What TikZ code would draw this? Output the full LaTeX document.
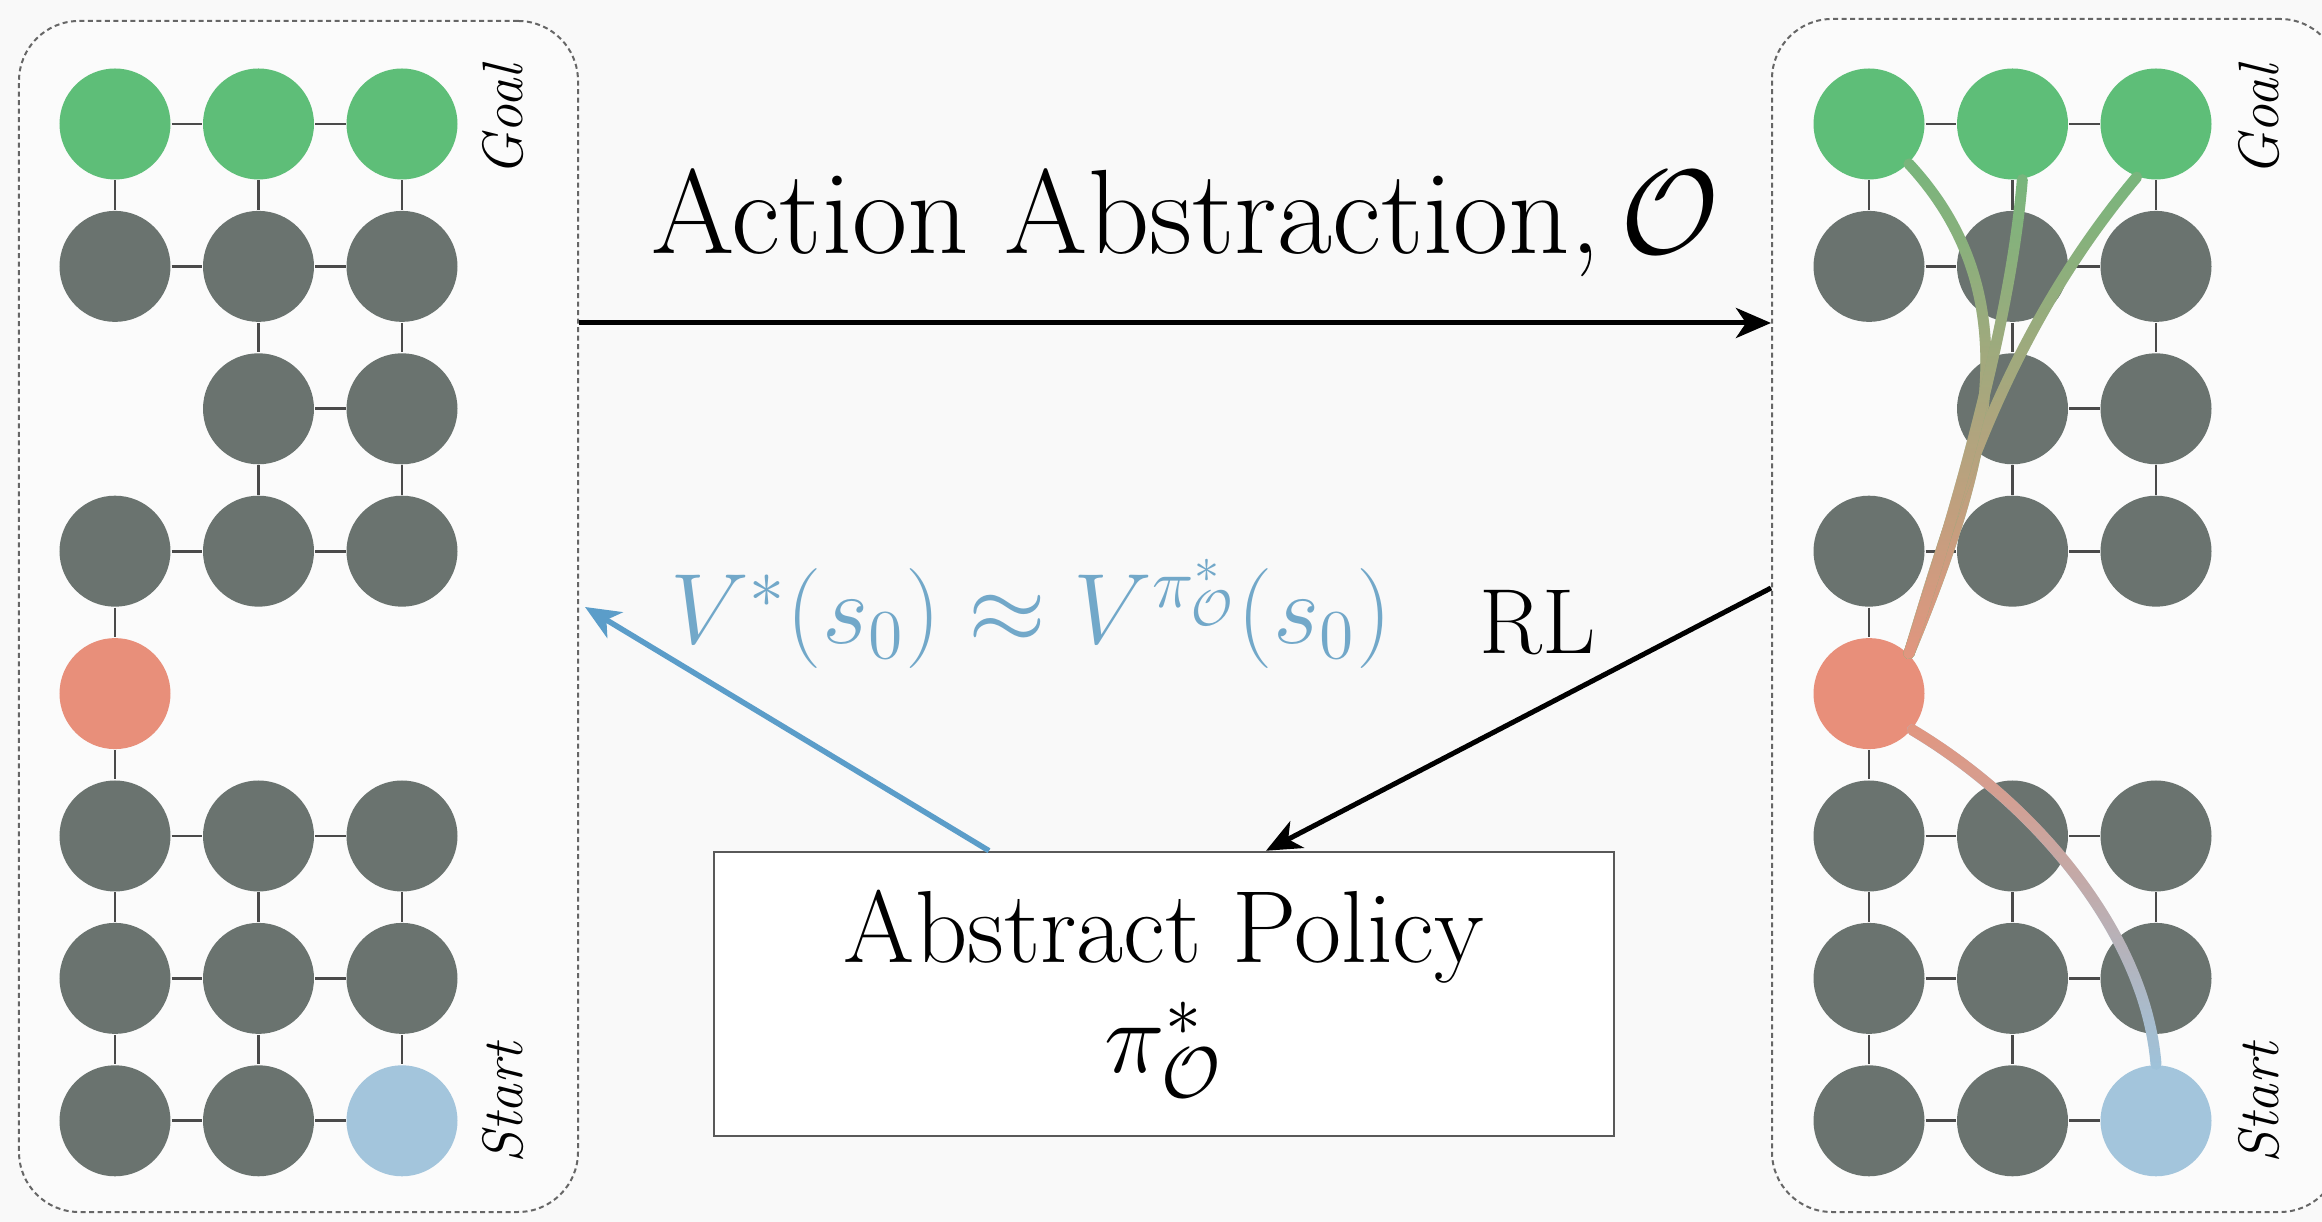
\RequirePackage{fix-cm}
\documentclass[tikz,border=0pt]{standalone}
\usetikzlibrary{arrows.meta,fadings}
\definecolor{bgc}{HTML}{F9F9F9}
\definecolor{panelc}{HTML}{FBFBFB}
\definecolor{goalc}{HTML}{5EBE78}
\definecolor{cellc}{HTML}{6A736F}
\definecolor{redc}{HTML}{E88F7A}
\definecolor{startc}{HTML}{A3C5DC}
\definecolor{edgec}{HTML}{4A4A4A}
\definecolor{bluec}{HTML}{5B9DC9}
\definecolor{bluetxt}{HTML}{72A8C9}
\definecolor{pathgreen}{HTML}{78B67C}
\definecolor{pathsalmon}{HTML}{E29680}
\definecolor{pathblue}{HTML}{9EC3DB}
\tikzfading[name=opaquebottom, top color=transparent!100, bottom color=transparent!0]
\tikzfading[name=opaquetop, top color=transparent!0, bottom color=transparent!100]
\pgfdeclarelayer{back}
\pgfdeclarelayer{edges}
\pgfsetlayers{back,edges,main}
\begin{document}
\begin{tikzpicture}[x=0.2pt,y=-0.2pt,
  cell/.style={circle, inner sep=0pt, minimum size=22.2pt, fill=cellc},
  goal/.style={cell, fill=goalc},
  sub/.style={cell, fill=redc},
  startst/.style={cell, fill=startc},
  gedge/.style={edgec, line width=0.55pt},
  panel/.style={draw=black!60, dash pattern=on 1pt off 0.7pt, line width=0.4pt, fill=panelc, rounded corners=12pt, inner sep=0pt},
  lbl/.style={rotate=90, font=\fontsize{11.4}{13}\selectfont\itshape},
  arr/.style={line width=1pt, -{Stealth[length=7pt,width=6pt,inset=2pt]}},
  traj/.style={line width=2.2pt, line cap=round},
]
\useasboundingbox (0,0) rectangle (2322,1222);
\clip (0,0) rectangle (2322,1222);
\begin{pgfonlayer}{back}
\fill[bgc] (0,0) rectangle (2322,1222);
\end{pgfonlayer}

% panels
\begin{pgfonlayer}{back}
\node[panel, minimum width=111.8pt, minimum height=238.2pt] (lp) at (298.5,616.5) {};
\node[panel, minimum width=113.6pt, minimum height=238.6pt] (rp) at (2056,615.5) {};
\end{pgfonlayer}

% cells
\foreach \p/\xo in {L/115, R/1869} {
  \foreach \r/\c/\s in {1/1/goal,1/2/goal,1/3/goal,2/1/cell,2/2/cell,2/3/cell,3/2/cell,3/3/cell,
                        4/1/cell,4/2/cell,4/3/cell,5/1/sub,6/1/cell,6/2/cell,6/3/cell,
                        7/1/cell,7/2/cell,7/3/cell,8/1/cell,8/2/cell,8/3/startst} {
    \node[\s] (\p\r\c) at ({\xo+143.5*(\c-1)}, {124+142.4*(\r-1)}) {};
  }
}

% grid edges
\begin{pgfonlayer}{edges}
\foreach \p in {L,R} {
  \foreach \a/\b in {11/12,12/13,21/22,22/23,32/33,41/42,42/43,61/62,62/63,71/72,72/73,81/82,82/83,
                     11/21,12/22,13/23,22/32,23/33,32/42,33/43,41/51,51/61,61/71,62/72,63/73,71/81,72/82,73/83}
    \draw[gedge] (\p\a) -- (\p\b);
}
\end{pgfonlayer}

% labels
\node[lbl] (goalL) at (503,121) {Goal};
\node[lbl] (startL) at (503,1103) {Start};
\node[lbl] (goalR) at (2259,121) {Goal};
\node[lbl] (startR) at (2259,1103) {Start};

% trajectories in right panel
\draw[traj, pathblue] (R83.north) .. controls (2145,930) and (2030,800) .. (R51.-40);
\draw[traj, pathsalmon, path fading=opaquetop] (R83.north) .. controls (2145,930) and (2030,800) .. (R51.-40);

\draw[traj, pathgreen] (R51.45) .. controls (1985,470) and (2035,300) .. (R11.-45);
\draw[traj, pathsalmon, path fading=opaquebottom] (R51.45) .. controls (1985,470) and (2035,300) .. (R11.-45);
\draw[traj, pathgreen] (R51.45) .. controls (1950,520) and (2000,340) .. (R13.-110);
\draw[traj, pathsalmon, path fading=opaquebottom] (R51.45) .. controls (1950,520) and (2000,340) .. (R13.-110);
\draw[traj, pathgreen] (R51.45) .. controls (1950,530) and (2010,330) .. (R12.-80);
\draw[traj, pathsalmon, path fading=opaquebottom] (R51.45) .. controls (1950,530) and (2010,330) .. (R12.-80);

% central part
\coordinate (ya) at (0,323);
\node[anchor=base, font=\fontsize{24}{28}\selectfont] (title) at (1185,254) {Action Abstraction,\,$\mathcal{O}$};
\draw[arr] (lp.east |- ya) -- (rp.west |- ya);

\node[draw=black!65, fill=white, line width=0.5pt, minimum width=180pt, minimum height=56.8pt,
      align=center, font=\fontsize{20.5}{22}\selectfont] (pol) at (1164,994)
      {Abstract Policy\\$\pi^*_{\mathcal{O}}$};

\coordinate (rly) at (0,588);
\coordinate (rlx) at (1266,0);
\draw[arr] (rp.west |- rly) -- (pol.north -| rlx);
\node[anchor=base, font=\fontsize{18.5}{22}\selectfont] (rl) at (1538,654) {RL};

\coordinate (bx) at (989,0);
\coordinate (vend) at (585,607);
\draw[arr, bluec, line width=1.1pt] (pol.north -| bx) -- (vend);
\node[anchor=base, text=bluetxt, font=\fontsize{20}{24}\selectfont] (val) at (1031,644)
      {$V^*(s_0)\approx V^{\pi^*_{\mathcal{O}}}(s_0)$};
\end{tikzpicture}
\end{document}
